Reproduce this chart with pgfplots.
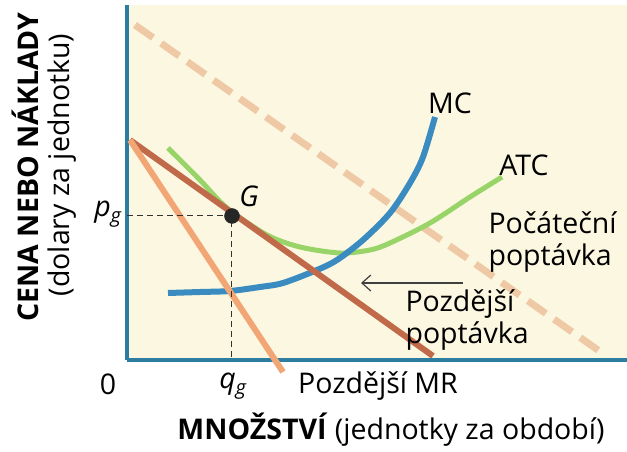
\documentclass[border=0pt]{standalone}
\usepackage{pgfplots}
\pgfplotsset{compat=1.18}
\usepackage{fontspec}
\setmainfont{Open Sans}
\usetikzlibrary{arrows.meta}
\definecolor{axteal}{HTML}{2D7DA0}
\definecolor{mcblue}{HTML}{3A8CC0}
\definecolor{atcgreen}{HTML}{98D468}
\definecolor{ldem}{HTML}{C06A4A}
\definecolor{mrorange}{HTML}{F3A675}
\definecolor{idem}{HTML}{EFC9A6}
\definecolor{cream}{HTML}{FBF7E0}
\definecolor{txt}{HTML}{2A2A2A}
\newcommand{\lab}{\fontsize{28.5}{32}\selectfont}
\newcommand{\sub}[1]{\raisebox{-0.35ex}{\fontsize{20}{20}\selectfont\textit{#1}}}
\begin{document}
\begin{tikzpicture}
\useasboundingbox (-127pt,-92pt) rectangle (500pt,360pt);
\begin{axis}[
  at={(0pt,0pt)}, anchor=south west,
  scale only axis, width=500pt, height=355pt,
  xmin=0, xmax=500, ymin=0, ymax=355,
  axis x line*=bottom, axis y line*=left,
  axis line style={line width=4pt, color=axteal},
  xtick=\empty, ytick=\empty,
  axis background/.style={fill=cream},
  clip=false,
  every node/.append style={text=txt},
]
% initial demand (dashed)
\addplot[idem, line width=7pt, dash pattern=on 22pt off 10pt] coordinates {(8,335) (478,5)};
% ATC
\addplot[atcgreen, line width=5pt, smooth] coordinates {
 (41,212) (73,180) (100,152) (140,125) (173,113) (213,107) (243,110) (263,117) (303,137) (343,163) (375,183)};
% MC
\addplot[mcblue, line width=6pt, smooth] coordinates {
 (41,67) (73,68) (103,69) (133,73) (156,77) (190,90) (210,100) (236,120) (263,147) (283,177) (296,203) (308,243)};
% later demand
\addplot[ldem, line width=6pt] coordinates {(3,220) (306,4)};
% later MR
\addplot[mrorange, line width=6pt] coordinates {(3,220) (156,-12)};
% guides
\addplot[black!80, line width=1pt, dash pattern=on 6pt off 4pt] coordinates {(0,144) (105,144) (105,0)};
\addplot[black!85, only marks, mark=*, mark size=7.5pt] coordinates {(105,144)};
% arrow
\addplot[black!75, line width=1.2pt, -{Straight Barb[length=9pt,width=16pt]}] coordinates {(336,77) (234,77)};
% labels
\node[font=\lab] at (axis cs:323,257) {MC};
\node[font=\lab] at (axis cs:397,195) {ATC};
\node[font=\lab, anchor=west, align=left] at (axis cs:358,118) {Počáteční\\poptávka};
\node[font=\lab, anchor=west, align=left] at (axis cs:275,40) {Pozdější\\poptávka};
\node[font=\lab] at (axis cs:251,-26) {Pozdější MR};
\node[font=\lab] at (axis cs:-19,-24) {0};
\node[font=\lab] at (axis cs:106,-26) {\textit{q}\sub{g}};
\node[font=\lab] at (axis cs:-19,146) {\textit{p}\sub{g}};
\node[font=\lab] at (axis cs:122,164) {\textit{G}};
\node[font=\lab\bfseries, rotate=90] at (axis cs:-102,193) {CENA NEBO NÁKLADY};
\node[font=\lab, rotate=90] at (axis cs:-65,195) {(dolary za jednotku)};
\node[font=\lab] at (axis cs:264,-70) {\textbf{MNOŽSTVÍ} (jednotky za období)};
\end{axis}
\end{tikzpicture}
\end{document}
